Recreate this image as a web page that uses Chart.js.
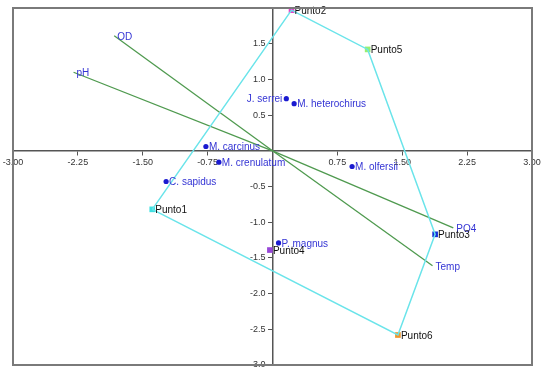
<!DOCTYPE html>
<html>
<head>
<meta charset="utf-8">
<script src="https://cdn.jsdelivr.net/npm/chart.js@4.4.0/dist/chart.umd.min.js"></script>
<style>
  body { margin: 0; background: #fff; }
  canvas { display: block; }
</style>
</head>
<body>
<canvas id="biplot" width="546" height="376"></canvas>
<script>
// sites (squares) and convex hull
const sites = ['Punto1', 'Punto2', 'Punto3', 'Punto4', 'Punto5', 'Punto6'];
const siteX = [-1.39, 0.22, 1.88, -0.03, 1.10, 1.45];
const siteY = [-0.82, 1.97, -1.17, -1.39, 1.42, -2.58];
const siteColors = ['#3ee0e0', '#e83cc8', '#1030d8', '#9848d8', '#98f070', '#f0962c'];
const hullOrder = ['Punto1', 'Punto2', 'Punto5', 'Punto3', 'Punto6', 'Punto1'];

// species (dots)
const species = ['J. serrei', 'M. heterochirus', 'M. olfersii', 'M. carcinus', 'M. crenulatum', 'C. sapidus', 'P. magnus'];
const speciesX = [0.16, 0.25, 0.92, -0.77, -0.62, -1.23, 0.07];
const speciesY = [0.73, 0.66, -0.22, 0.06, -0.16, -0.43, -1.29];

// environmental vectors
const variables = ['OD', 'pH', 'PO4', 'Temp'];
const varX = [-1.83, -2.30, 2.09, 1.85];
const varY = [1.61, 1.10, -1.08, -1.61];

const xTicks = [-3, -2.25, -1.5, -0.75, 0.75, 1.5, 2.25, 3];
const yTicks = [-3, -2.5, -2, -1.5, -1, -0.5, 0.5, 1, 1.5];

const blue = '#3434d4';
const fontFamily = '"Liberation Sans", Arial, sans-serif';

const datasets = [];

datasets.push({
    label: 'hull',
    data: hullOrder.map(n => ({ x: siteX[sites.indexOf(n)], y: siteY[sites.indexOf(n)] })),
    showLine: true,
    borderColor: '#6ae4ea',
    borderWidth: 1.5,
    pointRadius: 0
});

variables.forEach((v, i) => {
    datasets.push({
        label: v,
        data: [{ x: 0, y: 0 }, { x: varX[i], y: varY[i] }],
        showLine: true,
        borderColor: '#4f9a4f',
        borderWidth: 1.3,
        pointRadius: 0
    });
});

datasets.push({
    label: 'species',
    data: species.map((s, i) => ({ x: speciesX[i], y: speciesY[i] })),
    backgroundColor: '#1a1ad0',
    borderWidth: 0,
    pointRadius: 2.6
});

datasets.push({
    label: 'sites',
    data: sites.map((s, i) => ({ x: siteX[i], y: siteY[i] })),
    pointStyle: 'rect',
    backgroundColor: siteColors,
    borderWidth: 0,
    pointRadius: 4,
    clip: false
});

const labelPlugin = {
    id: 'labels',
    afterDatasetsDraw(chart) {
        const { ctx, scales: { x, y } } = chart;
        ctx.save();
        // y tick labels, left of the centred axis
        ctx.font = '9px ' + fontFamily;
        ctx.fillStyle = '#333';
        ctx.textAlign = 'right';
        ctx.textBaseline = 'middle';
        const x0 = x.getPixelForValue(0);
        yTicks.forEach(v => {
            ctx.fillText(v.toFixed(1), x0 - 7, y.getPixelForValue(v));
        });

        ctx.font = '10px ' + fontFamily;
        species.forEach((s, i) => {
            const px = x.getPixelForValue(speciesX[i]);
            const py = y.getPixelForValue(speciesY[i]);
            ctx.fillStyle = blue;
            if (s === 'J. serrei') {
                ctx.textAlign = 'right';
                ctx.fillText(s, px - 4, py + 1);
            } else {
                ctx.textAlign = 'left';
                ctx.fillText(s, px + 3, py + 1);
            }
        });
        ctx.textAlign = 'left';
        variables.forEach((v, i) => {
            ctx.fillStyle = blue;
            ctx.fillText(v, x.getPixelForValue(varX[i]) + 3, y.getPixelForValue(varY[i]) + 1);
        });
        sites.forEach((s, i) => {
            ctx.fillStyle = '#111';
            ctx.fillText(s, x.getPixelForValue(siteX[i]) + 3, y.getPixelForValue(siteY[i]) + 1);
        });
        ctx.restore();
    },
    afterDraw(chart) {
        const { ctx, chartArea: a } = chart;
        ctx.save();
        ctx.strokeStyle = '#7a7a7a';
        ctx.lineWidth = 2;
        ctx.strokeRect(a.left, a.top, a.right - a.left, a.bottom - a.top);
        ctx.restore();
    }
};

const tickFont = { family: fontFamily, size: 9 };

new Chart(document.getElementById('biplot'), {
    type: 'scatter',
    data: { datasets },
    options: {
        responsive: false,
        animation: false,
        layout: { padding: { left: 13, right: 14, top: 8, bottom: 11 } },
        plugins: { legend: { display: false }, tooltip: { enabled: false } },
        scales: {
            x: {
                type: 'linear',
                min: -3,
                max: 3,
                position: { y: 0 },
                afterBuildTicks: s => { s.ticks = xTicks.map(v => ({ value: v })); },
                ticks: {
                    callback: v => v.toFixed(2),
                    font: tickFont,
                    color: '#333',
                    padding: 2,
                    maxRotation: 0,
                    autoSkip: false
                },
                grid: { drawOnChartArea: false, drawTicks: true, tickLength: 4, color: '#555' },
                border: { color: '#555', width: 1.5 }
            },
            y: {
                type: 'linear',
                min: -3,
                max: 2,
                position: { x: 0 },
                afterBuildTicks: s => { s.ticks = yTicks.map(v => ({ value: v })); },
                ticks: { display: false },
                grid: { drawOnChartArea: false, drawTicks: true, tickLength: 4, color: '#555' },
                border: { color: '#555', width: 1.5 }
            }
        }
    },
    plugins: [labelPlugin]
});
</script>
</body>
</html>
